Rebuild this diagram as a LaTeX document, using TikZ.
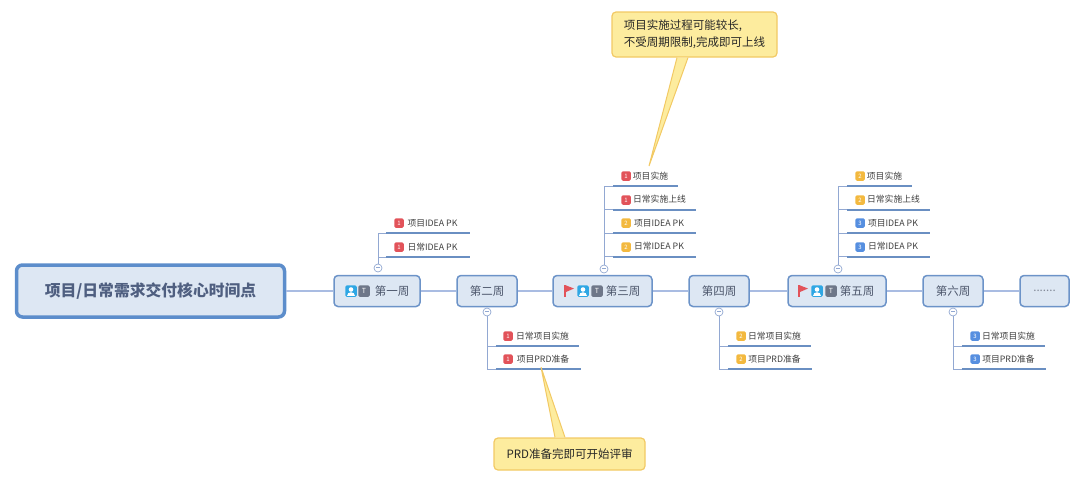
\documentclass[tikz,border=0pt]{standalone}
\usepackage{fontspec}
\setmainfont{Noto Sans CJK SC}
\usepackage{xcolor}
\definecolor{boxfill}{HTML}{DDE7F3}
\definecolor{boxline}{HTML}{6C93C8}
\definecolor{rootline}{HTML}{5C8DCB}
\definecolor{linkline}{HTML}{A9BCE2}
\definecolor{branchline}{HTML}{92A8D2}
\definecolor{ruleline}{HTML}{6A8FC2}
\definecolor{weektext}{HTML}{4C566B}
\definecolor{roottext}{HTML}{4F5F80}
\definecolor{redmark}{HTML}{E2535A}
\definecolor{orangemark}{HTML}{F3B93F}
\definecolor{bluemark}{HTML}{568FE0}
\definecolor{peopleblue}{HTML}{2FA7E4}
\definecolor{grayicon}{HTML}{6E7789}
\definecolor{notefill}{HTML}{FDEC9E}
\definecolor{noteline}{HTML}{F2C964}
\tikzset{
  root/.style={draw=rootline,line width=3.5pt,fill=boxfill,rounded corners=6pt,minimum width=268pt,minimum height=52pt,inner sep=0pt,text=roottext,font=\fontsize{15.8}{18}\selectfont\bfseries},
  week/.style={draw=boxline,line width=1.5pt,fill=boxfill,rounded corners=4pt,minimum height=31pt,inner sep=0pt,text=weektext,font=\fontsize{11.5}{14}\selectfont},
  leaf/.style={minimum height=20pt,inner sep=0pt,text=black!75,font=\fontsize{8.8}{10}\selectfont},
  badge/.style={fill=#1,rounded corners=1.5pt,minimum size=9.5pt,inner sep=0pt,text=white,font=\fontsize{6}{6}\selectfont},
  fold/.style={circle,draw=branchline,fill=white,line width=.7pt,minimum size=8pt,inner sep=0pt},
  icon/.style={rounded corners=1.5pt,minimum size=11.5pt,inner sep=0pt,text=white,font=\fontsize{7}{7}\selectfont},
  link/.style={linkline,line width=1.5pt},
  branch/.style={branchline,line width=1pt},
  rulebar/.style={ruleline,line width=2.4pt},
  note/.style={draw=noteline,line width=1.2pt,fill=notefill,rounded corners=4pt,inner sep=0pt,text=black!85,font=\fontsize{11.5}{17}\selectfont},
  flagicon/.pic={
    \fill[redmark] (-4,-6) -- (5,-2.5) -- (-3,1) -- cycle;
    \draw[redmark,line width=1.2pt] (-4,-6) -- (-4,6);
  },
  peopleicon/.pic={
    \fill[white] (0,-1.5) circle (2.3);
    \fill[white] (-3.6,4.5) .. controls (-3.6,0) and (3.6,0) .. (3.6,4.5) -- cycle;
  }
}
\newcommand{\foldmark}{\textcolor{branchline}{\rule[1.5pt]{3.5pt}{.4pt}}}
\begin{document}
\begin{tikzpicture}[x=1pt,y=-1pt]
\useasboundingbox (0,0) rectangle (1080,488);
\node[root] (start) at (150.5,291) {项目/日常需求交付核心时间点};
\node[week,minimum width=86pt] (w1) at (377,291) {\hspace*{30pt}第一周};
\node[week,minimum width=60pt] (w2) at (487,291) {第二周};
\node[week,minimum width=99pt] (w3) at (602.5,291) {\hspace*{41pt}第三周};
\node[week,minimum width=60pt] (w4) at (719,291) {第四周};
\node[week,minimum width=98pt] (w5) at (837,291) {\hspace*{40pt}第五周};
\node[week,minimum width=60pt] (w6) at (953,291) {第六周};
\node[week,minimum width=49pt,text=weektext!70] (w7) at (1044.5,291) {.......};
\draw[link] (start) -- (w1);
\draw[link] (w1) -- (w2);
\draw[link] (w2) -- (w3);
\draw[link] (w3) -- (w4);
\draw[link] (w4) -- (w5);
\draw[link] (w5) -- (w6);
\draw[link] (w6) -- (w7);
\node[icon,fill=peopleblue] (w1p) at (351,291) {};
\pic at (w1p) {peopleicon};
\node[icon,fill=grayicon] (w1g) at (364,291) {T};
\pic at (569,291) {flagicon};
\node[icon,fill=peopleblue] (w3p) at (583,291) {};
\pic at (w3p) {peopleicon};
\node[icon,fill=grayicon] (w3g) at (597,291) {T};
\pic at (803,291) {flagicon};
\node[icon,fill=peopleblue] (w5p) at (817,291) {};
\pic at (w5p) {peopleicon};
\node[icon,fill=grayicon] (w5g) at (831,291) {T};
\node[fold] (f1) at (378,268) {\foldmark};
\node[fold] (f2) at (487,312) {\foldmark};
\node[fold] (f3) at (604,269) {\foldmark};
\node[fold] (f4) at (719,312) {\foldmark};
\node[fold] (f5) at (838,269) {\foldmark};
\node[fold] (f6) at (953,312) {\foldmark};
\node[leaf,minimum width=84pt] (a1) at (428,223) {\hspace*{9pt}项目IDEA PK};
\node[leaf,minimum width=84pt] (a2) at (428,247) {\hspace*{9pt}日常IDEA PK};
\node[badge=redmark] (a1b) at (399,223) {1};
\node[badge=redmark] (a2b) at (399,247) {1};
\draw[rulebar] (a1.south west) -- (a1.south east);
\draw[rulebar] (a2.south west) -- (a2.south east);
\draw[branch] (f1) |- (a1.south west);
\draw[branch] (f1) |- (a2.south west);
\node[leaf,minimum width=83pt] (b1) at (537.5,336) {\hspace*{10pt}日常项目实施};
\node[leaf,minimum width=85pt] (b2) at (538.5,359) {\hspace*{9pt}项目PRD准备};
\node[badge=redmark] (b1b) at (508,336) {1};
\node[badge=redmark] (b2b) at (508,359) {1};
\draw[rulebar] (b1.south west) -- (b1.south east);
\draw[rulebar] (b2.south west) -- (b2.south east);
\draw[branch] (f2) |- (b1.south west);
\draw[branch] (f2) |- (b2.south west);
\node[leaf,minimum width=65pt] (c1) at (645.5,176) {\hspace*{10pt}项目实施};
\node[leaf,minimum width=83pt] (c2) at (654.5,199.5) {\hspace*{10pt}日常实施上线};
\node[leaf,minimum width=83pt] (c3) at (654.5,223) {\hspace*{9pt}项目IDEA PK};
\node[leaf,minimum width=83pt] (c4) at (654.5,246.5) {\hspace*{9pt}日常IDEA PK};
\node[badge=redmark] (c1b) at (626,176) {1};
\node[badge=redmark] (c2b) at (626,200) {1};
\node[badge=orangemark] (c3b) at (626,223) {2};
\node[badge=orangemark] (c4b) at (626,247) {2};
\draw[rulebar] (c1.south west) -- (c1.south east);
\draw[rulebar] (c2.south west) -- (c2.south east);
\draw[rulebar] (c3.south west) -- (c3.south east);
\draw[rulebar] (c4.south west) -- (c4.south east);
\draw[branch] (f3) |- (c1.south west);
\draw[branch] (f3) |- (c2.south west);
\draw[branch] (f3) |- (c3.south west);
\draw[branch] (f3) |- (c4.south west);
\node[leaf,minimum width=83pt] (d1) at (769.5,336) {\hspace*{10pt}日常项目实施};
\node[leaf,minimum width=84pt] (d2) at (770,359) {\hspace*{9pt}项目PRD准备};
\node[badge=orangemark] (d1b) at (741,336) {2};
\node[badge=orangemark] (d2b) at (741,359) {2};
\draw[rulebar] (d1.south west) -- (d1.south east);
\draw[rulebar] (d2.south west) -- (d2.south east);
\draw[branch] (f4) |- (d1.south west);
\draw[branch] (f4) |- (d2.south west);
\node[leaf,minimum width=65pt] (e1) at (879.5,176) {\hspace*{10pt}项目实施};
\node[leaf,minimum width=83pt] (e2) at (888.5,199.5) {\hspace*{10pt}日常实施上线};
\node[leaf,minimum width=83pt] (e3) at (888.5,223) {\hspace*{9pt}项目IDEA PK};
\node[leaf,minimum width=83pt] (e4) at (888.5,246.5) {\hspace*{9pt}日常IDEA PK};
\node[badge=orangemark] (e1b) at (860,176) {2};
\node[badge=orangemark] (e2b) at (860,200) {2};
\node[badge=bluemark] (e3b) at (860,223) {3};
\node[badge=bluemark] (e4b) at (860,247) {3};
\draw[rulebar] (e1.south west) -- (e1.south east);
\draw[rulebar] (e2.south west) -- (e2.south east);
\draw[rulebar] (e3.south west) -- (e3.south east);
\draw[rulebar] (e4.south west) -- (e4.south east);
\draw[branch] (f5) |- (e1.south west);
\draw[branch] (f5) |- (e2.south west);
\draw[branch] (f5) |- (e3.south west);
\draw[branch] (f5) |- (e4.south west);
\node[leaf,minimum width=83pt] (g1) at (1003.5,336) {\hspace*{10pt}日常项目实施};
\node[leaf,minimum width=84pt] (g2) at (1004,359) {\hspace*{9pt}项目PRD准备};
\node[badge=bluemark] (g1b) at (975,336) {3};
\node[badge=bluemark] (g2b) at (975,359) {3};
\draw[rulebar] (g1.south west) -- (g1.south east);
\draw[rulebar] (g2.south west) -- (g2.south east);
\draw[branch] (f6) |- (g1.south west);
\draw[branch] (f6) |- (g2.south west);
\node[note,minimum width=165pt,minimum height=45pt,align=left] (n1) at (694.5,34.5) {项目实施过程可能较长,\\不受周期限制,完成即可上线};
\coordinate (n1tip) at (649,166);
\fill[notefill] ([xshift=-17.5pt]n1.south) -- (n1tip) -- ([xshift=-6.5pt]n1.south) -- cycle;
\draw[noteline,line width=1pt] ([xshift=-17.5pt]n1.south) -- (n1tip) -- ([xshift=-6.5pt]n1.south);
\node[note,minimum width=151pt,minimum height=32pt] (n2) at (569.5,454) {PRD准备完即可开始评审};
\coordinate (n2tip) at ([xshift=2.5pt,yshift=2pt]b2.south);
\fill[notefill] ([xshift=-14.5pt]n2.north) -- (n2tip) -- ([xshift=-4.5pt]n2.north) -- cycle;
\draw[noteline,line width=1pt] ([xshift=-14.5pt]n2.north) -- (n2tip) -- ([xshift=-4.5pt]n2.north);
\end{tikzpicture}
\end{document}
